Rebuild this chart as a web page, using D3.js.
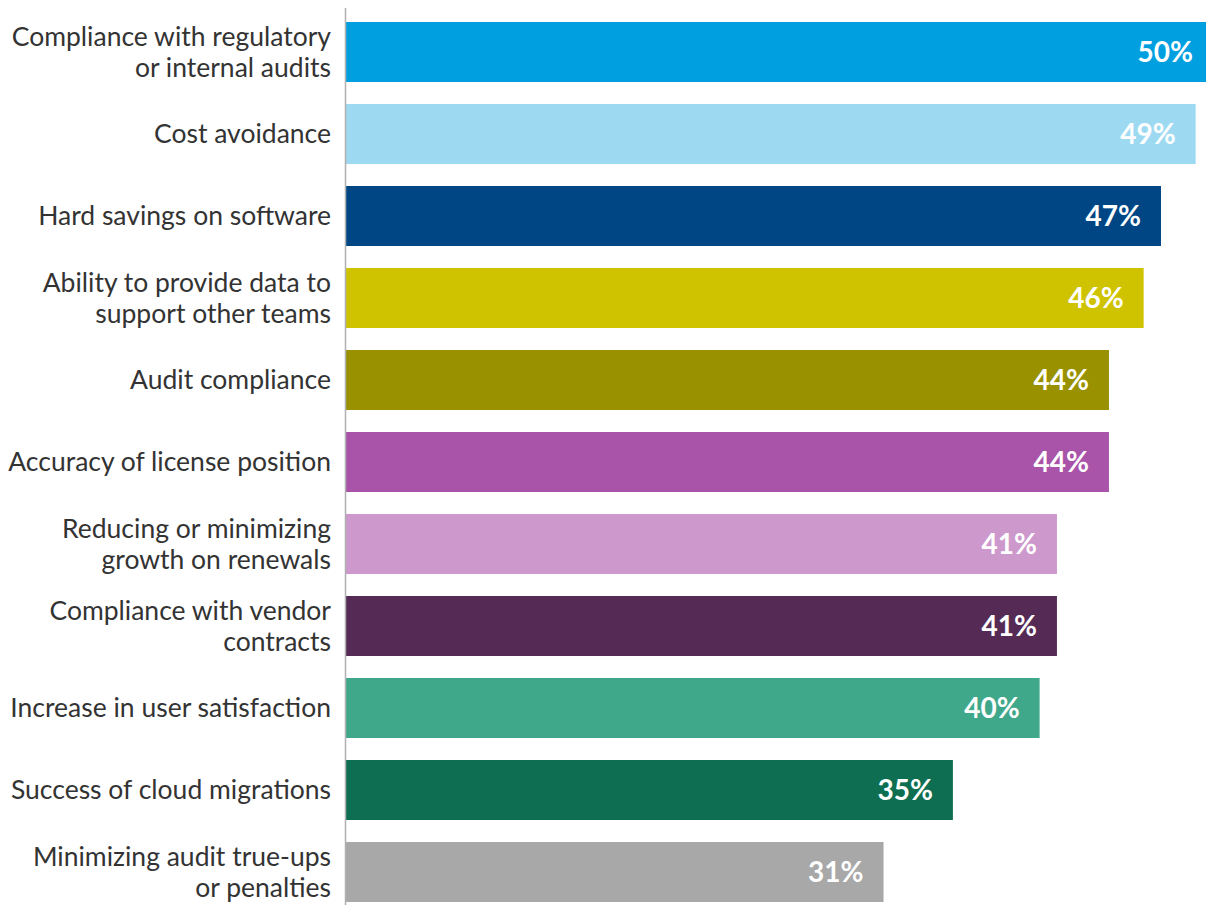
<!DOCTYPE html>
<html>
<head>
<meta charset="utf-8">
<script src="https://cdn.jsdelivr.net/npm/d3@7"></script>
<style>
  html, body { margin: 0; padding: 0; background: #fff; }
  svg { display: block; }
</style>
</head>
<body>
<svg id="chart" width="1206" height="905"></svg>
<script>
const categories = [
  ["Compliance with regulatory", "or internal audits"],
  ["Cost avoidance"],
  ["Hard savings on software"],
  ["Ability to provide data to", "support other teams"],
  ["Audit compliance"],
  ["Accuracy of license position"],
  ["Reducing or minimizing", "growth on renewals"],
  ["Compliance with vendor", "contracts"],
  ["Increase in user satisfaction"],
  ["Success of cloud migrations"],
  ["Minimizing audit true-ups", "or penalties"]
];
const values = [50, 49, 47, 46, 44, 44, 41, 41, 40, 35, 31];
const colors = ["#009fdf", "#9ddaf2", "#004684", "#cfc300", "#9a9100", "#a954a8",
                "#cd98cc", "#552a55", "#40a88a", "#0e6e51", "#a8a8a8"];

const svg = d3.select("#chart");
const ids = categories.map((c, i) => i);

const x = d3.scaleLinear().domain([0, 50]).range([346, 1213]);
const y = d3.scaleBand().domain(ids).range([11, 913])
  .paddingInner(22 / 82).paddingOuter(11 / 82);

svg.selectAll("rect.bar").data(ids).enter().append("rect")
  .attr("class", "bar")
  .attr("x", x(0))
  .attr("y", i => y(i))
  .attr("width", i => x(values[i]) - x(0))
  .attr("height", y.bandwidth())
  .attr("fill", i => colors[i]);

// axis line
svg.append("line")
  .attr("x1", x(0) - 0.5).attr("x2", x(0) - 0.5)
  .attr("y1", 8).attr("y2", 905)
  .attr("stroke", "#b0b0b0").attr("stroke-width", 1.5);

// category labels
const lab = svg.selectAll("text.cat").data(ids).enter().append("text")
  .attr("class", "cat")
  .attr("text-anchor", "end")
  .attr("font-family", "Lato, 'Noto Sans', sans-serif")
  .attr("font-size", 26.5)
  .attr("fill", "#333333");
lab.each(function(i) {
  const lines = categories[i];
  const cy = y(i) + y.bandwidth() / 2;
  const lh = 31;
  lines.forEach((t, k) => {
    d3.select(this).append("tspan")
      .attr("x", 331)
      .attr("y", cy + (k - (lines.length - 1) / 2) * lh)
      .attr("dy", "0.35em")
      .text(t);
  });
});

// value labels
svg.selectAll("text.val").data(ids).enter().append("text")
  .attr("class", "val")
  .attr("text-anchor", "end")
  .attr("font-family", "Lato, 'Noto Sans', sans-serif")
  .attr("font-weight", "bold")
  .attr("font-size", 28)
  .attr("fill", "#ffffff")
  .attr("x", i => x(values[i]) - 20)
  .attr("y", i => y(i) + y.bandwidth() / 2)
  .attr("dy", "0.36em")
  .text(i => values[i] + "%");
</script>
</body>
</html>
